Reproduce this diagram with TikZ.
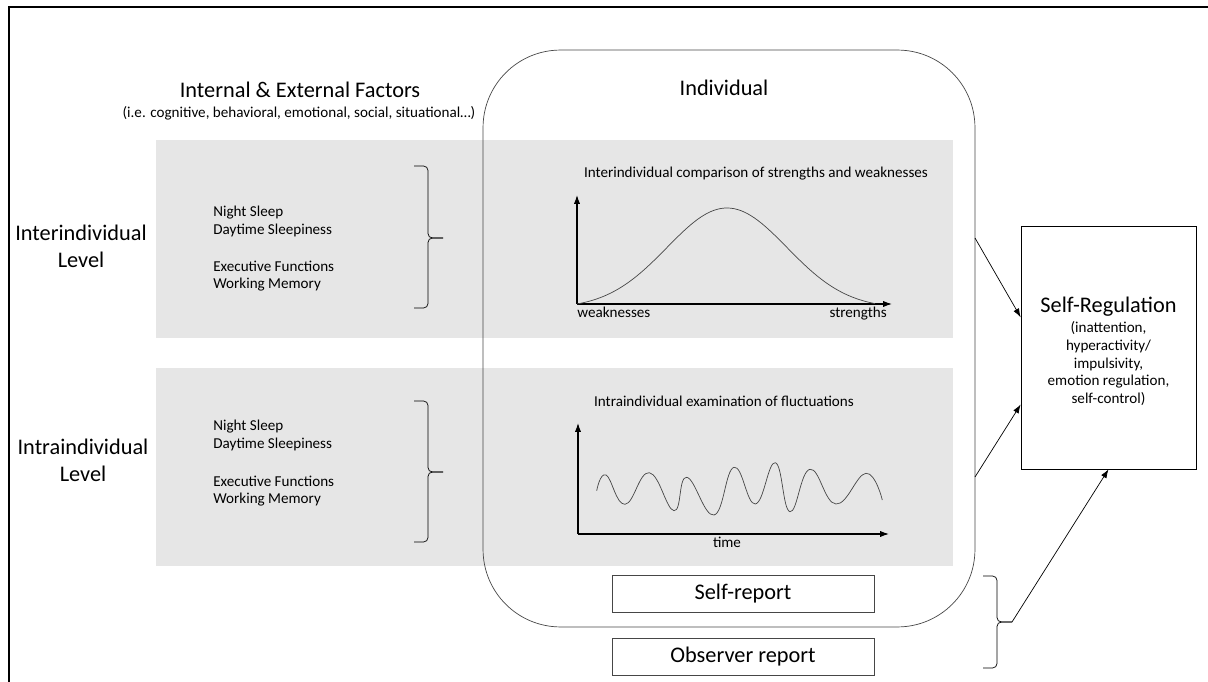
\documentclass[tikz,border=0pt]{standalone}
\usepackage{fontspec}
\setmainfont{Carlito}
\usetikzlibrary{arrows.meta}

\definecolor{bandGrey}{RGB}{230,230,230}
\definecolor{lineGrey}{RGB}{70,70,70}

\begin{document}
\begin{tikzpicture}
[x=0.02cm,y=-0.02cm,
  bandDecorate/.style={fill=bandGrey},
  boxDecorate/.style={shape=rectangle,draw=lineGrey,fill=white,inner sep=0pt},
  braceDecorate/.style={thin,rounded corners=2.5pt},
  arrowDecorate/.style={-{Latex[length=5pt,width=3.5pt]},thin},
  axisDecorate/.style={-{Latex[length=5pt,width=3.5pt]},semithick},
  curveDecorate/.style={draw=lineGrey,thin},
  bigText/.style={font=\fontsize{12.7}{15.4}\selectfont,inner sep=0pt},
  smallText/.style={font=\fontsize{8.6}{10.2}\selectfont,inner sep=0pt}]
\clip (0,0) rectangle (1208,682);
%% frame and grey bands
\draw[line width=1.1pt] (1230,7) -- (9,7) -- (9,700);
\fill[bandDecorate] (156,140) rectangle (953,338);
\fill[bandDecorate] (156,368) rectangle (953,566);

%% boxes
\node[draw=lineGrey,rounded corners=1.55cm,minimum width=9.84cm,minimum height=11.54cm] (indiv) at (729,338.5) {};
\node[boxDecorate,bigText,minimum width=5.24cm,minimum height=0.74cm] (selfRep) at (743,593.5) {Self-report};
\node[boxDecorate,bigText,minimum width=5.24cm,minimum height=0.74cm] (obsRep) at (743,656.5) {Observer report};
\node[boxDecorate,draw=black,minimum width=3.5cm,minimum height=4.86cm] (selfReg) at (1108.5,347.5) {};
\node[smallText,align=center,font=\fontsize{8.6}{10}\selectfont] (selfRegText) at (1108.5,351.4)
  {{\fontsize{12.7}{15}\selectfont Self-Regulation}\\[1.4pt] (inattention,\\ hyperactivity/\\ impulsivity,\\ emotion regulation,\\ self-control)};

%% titles and labels
\node[bigText,anchor=base] (factorsTitle) at (300,98) {Internal \& External Factors};
\node[smallText,anchor=base] (factorsSub) at (299,118) {(i.e. cognitive, behavioral, emotional, social, situational…)};
\node[bigText,anchor=base] (indivTitle) at (724,96) {Individual};
\node[bigText,align=center] (interLevel) at (81,246.7) {Interindividual\\ Level};
\node[bigText,align=center] (intraLevel) at (83,460.7) {Intraindividual\\ Level};
\foreach \nodename/\txt/\y in {interSleep/Night Sleep/217, interDay/Daytime Sleepiness/235,
    interExec/Executive Functions/272, interWork/Working Memory/289,
    intraSleep/Night Sleep/431, intraDay/Daytime Sleepiness/449,
    intraExec/Executive Functions/486, intraWork/Working Memory/503} {
  \node[smallText,anchor=base west] (\nodename) at (213,\y) {\txt};
}

%% braces
\foreach \bx/\yA/\yM/\yB in {414/166/238/308, 414/401/472/542, 983/576/622/668} {
  \draw[braceDecorate] (\bx,\yA) -- (\bx+14,\yA) -- (\bx+14,\yM) -- (\bx+29,\yM);
  \draw[braceDecorate] (\bx,\yB) -- (\bx+14,\yB) -- (\bx+14,\yM) -- (\bx+29,\yM);
}
\coordinate (repTip) at (1012,622);

%% bell curve
\node[smallText,anchor=base] (bellTitle) at (756,178) {Interindividual comparison of strengths and weaknesses};
\coordinate (bellO) at (577,304);
\draw[axisDecorate] (bellO) -- (577,195);
\draw[axisDecorate] (bellO) -- (892,304);
\draw[curveDecorate] plot[domain=577:875,samples=90] (\x,{304-96*(exp(0-0.5*pow((\x-727)/60,2))-0.044)/0.956});
\node[smallText,anchor=base west] (weakLabel) at (577,318) {weaknesses};
\node[smallText,anchor=base east] (strongLabel) at (887,318) {strengths};

%% fluctuations
\node[smallText,anchor=base] (waveTitle) at (724,407) {Intraindividual examination of fluctuations};
\coordinate (waveO) at (578,534);
\draw[axisDecorate] (waveO) -- (578,423);
\draw[axisDecorate] (waveO) -- (889,534);
\draw[curveDecorate] plot[smooth,tension=0.75] coordinates {(596.7,490.7) (606,475) (625,504.3)
  (649.3,472.7) (674,510.7) (686.7,477.3) (714,515) (734,467.3) (755.3,504) (775.3,462.7)
  (790,511.7) (810,469.3) (836,504) (866,473.3) (882.3,500)};
\node[smallText,anchor=base] (timeLabel) at (727,547) {time};

%% arrows
\coordinate (indivOutA) at (975,238);
\coordinate (indivOutB) at (975,477);
\draw[arrowDecorate] (indivOutA) -- (selfReg.161);
\draw[arrowDecorate] (indivOutB) -- (selfReg.213);
\draw[arrowDecorate] (repTip) -- (selfReg.south);
\end{tikzpicture}
\end{document}
